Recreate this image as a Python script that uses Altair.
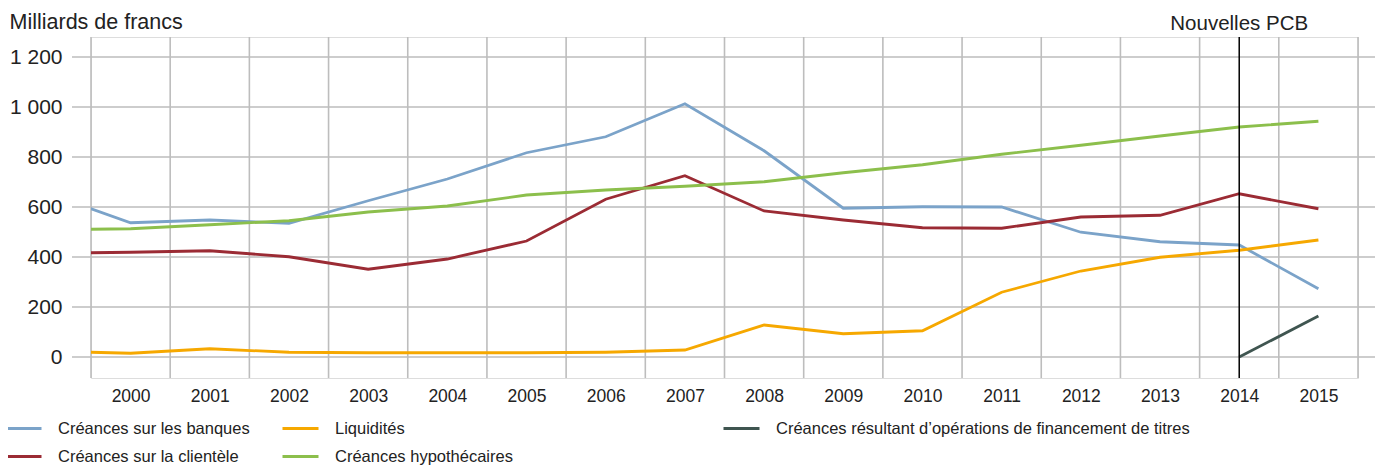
import altair as alt
import pandas as pd

# ---------------- data ----------------
years = list(range(1999, 2016))
banques = [649, 537, 548, 535, 625, 712, 817, 881, 1013, 825, 595, 601, 600, 499, 461, 448, 273]
clientele = [415, 419, 425, 401, 351, 392, 464, 631, 725, 584, 548, 517, 515, 560, 567, 653, 593]
liquidites = [23, 15, 33, 19, 17, 17, 17, 19, 28, 128, 93, 105, 259, 344, 399, 427, 468]
hypothecaires = [509, 513, 529, 545, 580, 604, 648, 668, 683, 701, 737, 769, 811, 847, 884, 920, 943]
titres = [None] * 15 + [0, 164]

S1 = "Créances sur les banques"
S2 = "Créances sur la clientèle"
S3 = "Liquidités"
S4 = "Créances hypothécaires"
S5 = "Créances résultant d’opérations de financement de titres"

label_years = list(range(2000, 2016))
y_ticks = [0, 200, 400, 600, 800, 1000, 1200]
break_year = 2014
break_label = "Nouvelles PCB"

rows = []
for name, vals in [(S1, banques), (S2, clientele), (S3, liquidites), (S4, hypothecaires)]:
    for yr, v in zip(years, vals):
        if v is not None:
            rows.append({"year": yr, "value": v, "series": name})
main_df = pd.DataFrame(rows)
tit_df = pd.DataFrame([{"year": yr, "value": v, "series": S5} for yr, v in zip(years, titres) if v is not None])

grid_x = [y - 0.5 for y in label_years] + [label_years[-1] + 0.5]

# ---------------- style ----------------
W, H = 1267, 341
NORMAL = "Liberation Sans"
TXT = "#222222"
GRID = "#bdbdbd"

x_scale = alt.Scale(domain=[1999.5, 2015.5], nice=False, zero=False)
y_scale = alt.Scale(domain=[-84, 1280], nice=False, zero=False)

x_axis = alt.Axis(values=label_years, format="d", ticks=False, domain=False, grid=False,
                  labelFont=NORMAL, labelFontSize=17.5, labelColor=TXT, labelPadding=9,
                  title=None)
y_axis = alt.Axis(values=y_ticks, labelExpr="replace(format(datum.value, ','), ',', ' ')",
                  ticks=False, domain=False, grid=False,
                  labelFont=NORMAL, labelFontSize=21, labelColor=TXT, labelPadding=29,
                  title="Milliards de francs", titleAngle=0, titleX=-82, titleY=-9,
                  titleAlign="left", titleBaseline="alphabetic", titleFont=NORMAL,
                  titleFontSize=21.5, titleFontWeight="normal", titleColor=TXT)

X = alt.X("year:Q", scale=x_scale, axis=x_axis)
Y = alt.Y("value:Q", scale=y_scale, axis=y_axis)

hgrid = alt.Chart(pd.DataFrame({"value": y_ticks})).mark_rule(
    color=GRID, strokeWidth=1.6).encode(y=Y, x=alt.value(-19), x2=alt.value(W + 19))

vgrid = alt.Chart(pd.DataFrame({"year": grid_x})).mark_rule(
    color=GRID, strokeWidth=1.6).encode(x=X)

legend_common = dict(orient="none", symbolType="stroke", symbolSize=1296, symbolStrokeWidth=3,
                     labelFont=NORMAL, labelFontSize=16.5, labelColor=TXT, labelOffset=15,
                     title=None, padding=0, labelLimit=0)

lines = alt.Chart(main_df).mark_line(strokeWidth=2.8, clip=True).encode(
    x=X, y=Y,
    color=alt.Color("series:N",
                    scale=alt.Scale(domain=[S1, S2, S3, S4],
                                    range=["#7ba3c9", "#9b2b34", "#f6a800", "#8cbf4c"]),
                    legend=alt.Legend(columns=2, direction="vertical", columnPadding=26,
                                      rowPadding=-15, legendX=-87, legendY=372,
                                      **legend_common)),
    detail="series:N",
)

tit = alt.Chart(tit_df).mark_line(strokeWidth=2.8, clip=True).encode(
    x=X, y=Y,
    color=alt.Color("series:N",
                    scale=alt.Scale(domain=[S5], range=["#3f5550"]),
                    legend=alt.Legend(legendX=631, legendY=372, **legend_common)),
)

brk = alt.Chart(pd.DataFrame({"year": [break_year]})).mark_rule(
    color="#000000", strokeWidth=1.5).encode(x=X)

brk_txt = alt.Chart(pd.DataFrame({"year": [break_year], "label": [break_label]})).mark_text(
    font=NORMAL, fontSize=20.5, color=TXT, baseline="middle").encode(
    x=X, y=alt.value(-13), text="label:N")

chart = alt.layer(hgrid, vgrid, lines, tit, brk, brk_txt).resolve_scale(
    color="independent"
).properties(
    width=W, height=H,
    padding={"left": 83, "top": 29, "right": 17, "bottom": 88},
    autosize=alt.AutoSizeParams(type="none"),
).configure_view(stroke=None).configure(background="white")

chart.save("out.html", embed_options={"renderer": "svg", "actions": False})
